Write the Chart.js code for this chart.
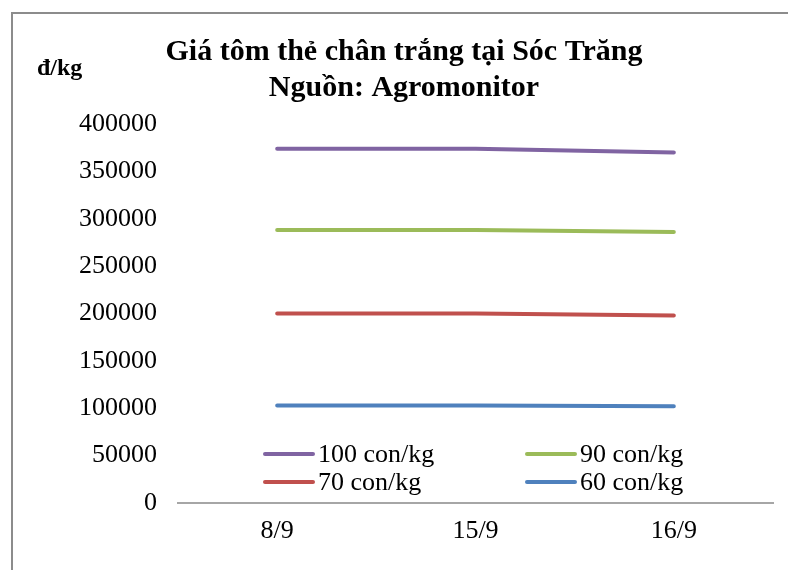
<!DOCTYPE html>
<html>
<head>
<meta charset="utf-8">
<script src="https://cdn.jsdelivr.net/npm/chart.js@4/dist/chart.umd.min.js"></script>
<style>
html,body{margin:0;padding:0;background:#fff;}
canvas{display:block;}
</style>
</head>
<body>
<canvas id="c" width="788" height="570"></canvas>
<script>
const categories = ['8/9', '15/9', '16/9'];
const seriesNames = ['100 con/kg', '90 con/kg', '70 con/kg', '60 con/kg'];
const s100 = [374000, 374000, 370000];
const s90 = [288000, 288000, 286000];
const s70 = [200000, 200000, 198000];
const s60 = [103000, 103000, 102000];
const yTickLabels = ['0', '50000', '100000', '150000', '200000', '250000', '300000', '350000', '400000'];
const titleLines = ['Giá tôm thẻ chân trắng tại Sóc Trăng', 'Nguồn: Agromonitor'];
const unitLabel = 'đ/kg';

const colors = ['#8064A2', '#9BBB59', '#C0504D', '#4F81BD'];
const SERIF = "'Liberation Serif', 'Times New Roman', serif";

const framePlugin = {
  id: 'frame',
  beforeDraw(chart) {
    const ctx = chart.ctx;
    ctx.save();
    ctx.fillStyle = '#fff';
    ctx.fillRect(0, 0, chart.width, chart.height);
    ctx.strokeStyle = '#8c8c8c';
    ctx.lineWidth = 2;
    ctx.beginPath();
    ctx.moveTo(12, chart.height);
    ctx.lineTo(12, 13);
    ctx.lineTo(chart.width, 13);
    ctx.stroke();
    ctx.restore();
  },
  afterDraw(chart) {
    const ctx = chart.ctx;
    const ca = chart.chartArea;
    ctx.save();
    // unit label
    ctx.fillStyle = '#000';
    ctx.font = 'bold 24px ' + SERIF;
    ctx.textAlign = 'left';
    ctx.textBaseline = 'alphabetic';
    ctx.fillText(unitLabel, 37, 75);
    // legend
    ctx.font = '26px ' + SERIF;
    ctx.textBaseline = 'middle';
    const colX = [ca.left + 85, ca.left + 347];
    const rowY = [ca.bottom - 49, ca.bottom - 21];
    chart.data.datasets.forEach((ds, i) => {
      const x = colX[i % 2];
      const y = rowY[Math.floor(i / 2)];
      ctx.strokeStyle = ds.borderColor;
      ctx.lineWidth = 4;
      ctx.lineCap = 'round';
      ctx.beginPath();
      ctx.moveTo(x + 2, y);
      ctx.lineTo(x + 50, y);
      ctx.stroke();
      ctx.fillStyle = '#000';
      ctx.fillText(ds.label, x + 55, y + 1);
    });
    ctx.restore();
  }
};

const datasets = [s100, s90, s70, s60].map((d, i) => ({
  label: seriesNames[i],
  data: d,
  borderColor: colors[i],
  backgroundColor: colors[i],
  borderWidth: 4,
  borderCapStyle: 'round',
  borderJoinStyle: 'round',
  pointRadius: 0,
  pointHoverRadius: 0,
  tension: 0,
  fill: false
}));

new Chart(document.getElementById('c'), {
  type: 'line',
  data: { labels: categories, datasets },
  plugins: [framePlugin],
  options: {
    responsive: false,
    animation: false,
    devicePixelRatio: 1,
    layout: { padding: { left: 35, right: 15, top: 0, bottom: 0 } },
    plugins: {
      legend: { display: false },
      tooltip: { enabled: false },
      title: {
        display: true,
        text: titleLines,
        color: '#000',
        font: { family: SERIF, size: 30, weight: 'bold', lineHeight: '36px' },
        padding: { top: 34, bottom: 18 }
      }
    },
    scales: {
      x: {
        offset: true,
        grid: { display: false, drawTicks: false },
        border: { display: true, color: '#a6a6a6', width: 2 },
        ticks: { color: '#000', font: { family: SERIF, size: 26 }, padding: 13, maxRotation: 0 },
        afterFit(scale) { scale.height = 67; }
      },
      y: {
        min: 0,
        max: 400000,
        grid: { display: false, drawTicks: false },
        border: { display: false },
        ticks: {
          stepSize: 50000,
          color: '#000',
          font: { family: SERIF, size: 26 },
          padding: 21,
          callback: (v) => yTickLabels[Math.round(v / 50000)]
        },
        afterFit(scale) { scale.width = 143; }
      }
    }
  }
});
</script>
</body>
</html>
